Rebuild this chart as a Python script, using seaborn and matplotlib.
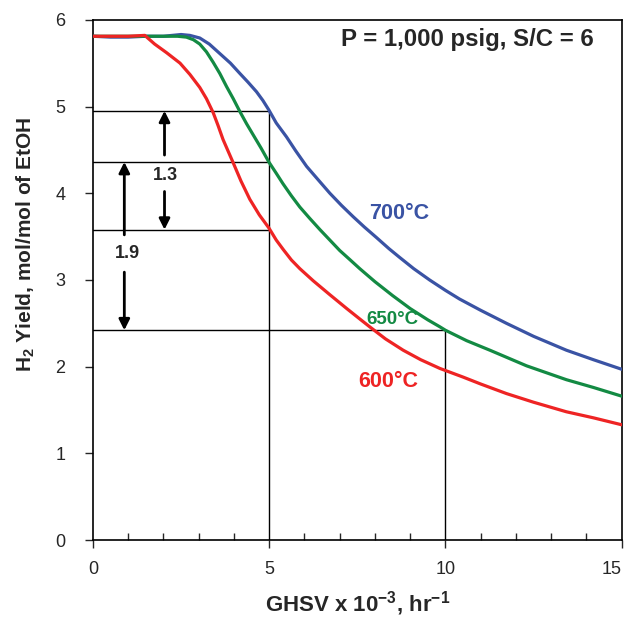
import numpy as np
import pandas as pd
import matplotlib
matplotlib.use('Agg')
import matplotlib.pyplot as plt
import seaborn as sns
from matplotlib.ticker import MultipleLocator

# GHSV (x 10^-3, hr^-1) vs H2 yield (mol/mol EtOH)
x_700 = [0, 0.5, 1, 1.5, 2, 2.5, 2.75, 3.03, 3.3, 3.6, 3.9, 4.17, 4.4, 4.64, 4.82, 4.99, 5.2,
         5.49, 5.75, 6.06, 6.4, 6.72, 7.05, 7.38, 7.7, 8.04, 8.4, 8.7, 9.1, 9.55, 10.0, 10.4,
         11.0, 11.73, 12.5, 13.43, 14.2, 15]
y_700 = [5.81, 5.80, 5.80, 5.81, 5.81, 5.83, 5.82, 5.79, 5.72, 5.61, 5.50, 5.38, 5.28, 5.17,
         5.07, 4.96, 4.81, 4.65, 4.49, 4.31, 4.15, 4.00, 3.86, 3.73, 3.61, 3.49, 3.36, 3.26,
         3.13, 3.00, 2.88, 2.78, 2.65, 2.50, 2.35, 2.19, 2.08, 1.97]

x_650 = [0, 0.5, 1, 1.5, 2, 2.4, 2.65, 2.85, 3.03, 3.22, 3.41, 3.6, 3.79, 3.98, 4.17, 4.36,
         4.55, 4.77, 4.99, 5.2, 5.39, 5.63, 5.87, 6.15, 6.44, 6.72, 7.0, 7.3, 7.57, 8.0, 8.5,
         9.0, 9.5, 9.84, 10.0, 10.6, 11.26, 12.3, 13.43, 14.2, 15]
y_650 = [5.81, 5.81, 5.81, 5.81, 5.81, 5.81, 5.80, 5.77, 5.72, 5.63, 5.51, 5.38, 5.23, 5.09,
         4.94, 4.80, 4.67, 4.52, 4.36, 4.23, 4.11, 3.97, 3.84, 3.71, 3.58, 3.46, 3.34, 3.23,
         3.13, 2.98, 2.82, 2.67, 2.54, 2.46, 2.42, 2.30, 2.19, 2.01, 1.85, 1.76, 1.66]

x_600 = [0, 0.5, 1, 1.47, 1.75, 2.09, 2.47, 2.75, 3.03, 3.22, 3.41, 3.55, 3.69, 3.84, 3.98,
         4.2, 4.45, 4.72, 4.99, 5.2, 5.4, 5.63, 5.87, 6.25, 6.72, 7.2, 7.57, 7.85, 8.3, 8.8,
         9.3, 9.84, 10.5, 11.0, 11.73, 12.5, 13.43, 14.2, 15]
y_600 = [5.81, 5.81, 5.81, 5.82, 5.72, 5.62, 5.50, 5.37, 5.22, 5.09, 4.93, 4.78, 4.62, 4.48,
         4.35, 4.14, 3.93, 3.75, 3.60, 3.46, 3.35, 3.23, 3.13, 2.99, 2.83, 2.67, 2.55, 2.46,
         2.32, 2.19, 2.08, 1.98, 1.88, 1.80, 1.69, 1.59, 1.48, 1.41, 1.33]

temps = ['700°C', '650°C', '600°C']
colors = ['#3A53A4', '#138A43', '#EE2424']

# reference levels: curves at GHSV = 5 and the 650°C curve at GHSV = 10
lvl_700_5 = 4.95
lvl_650_5 = 4.36
lvl_600_5 = 3.58
lvl_650_10 = 2.42

df = pd.concat([
    pd.DataFrame({'ghsv': x_700, 'yield': y_700, 'T': temps[0]}),
    pd.DataFrame({'ghsv': x_650, 'yield': y_650, 'T': temps[1]}),
    pd.DataFrame({'ghsv': x_600, 'yield': y_600, 'T': temps[2]}),
])

sns.set_style('ticks')
plt.rcParams['font.family'] = ['Liberation Sans', 'DejaVu Sans']
plt.rcParams['mathtext.default'] = 'regular'

fig = plt.figure(figsize=(6.28, 6.18), dpi=100)
ax = fig.add_axes([0.148, 0.126, 0.842, 0.842])

# thin black guide lines
lk = dict(color='black', lw=1.0, zorder=1)
for lv in [lvl_700_5, lvl_650_5, lvl_600_5]:
    ax.plot([0, 5], [lv, lv], **lk)
ax.plot([0, 10], [lvl_650_10, lvl_650_10], **lk)
ax.plot([5, 5], [0, lvl_700_5], **lk)
ax.plot([10, 10], [0, lvl_650_10], **lk)

sns.lineplot(data=df, x='ghsv', y='yield', hue='T', palette=colors, sort=False,
             estimator=None, lw=2.3, legend=False, ax=ax, zorder=3)

# double-headed arrows (split around the numbers)
ap = dict(arrowstyle='-|>', lw=2.0, color='black', mutation_scale=16, shrinkA=0, shrinkB=0)
ax.annotate('', xy=(2.03, lvl_700_5), xytext=(2.03, 4.44), arrowprops=ap)
ax.annotate('', xy=(2.03, lvl_600_5), xytext=(2.03, 4.02), arrowprops=ap)
ax.text(2.05, 4.20, '1.3', ha='center', va='center', fontsize=13, fontweight='bold')
ax.annotate('', xy=(0.89, lvl_650_5), xytext=(0.89, 3.52), arrowprops=ap)
ax.annotate('', xy=(0.89, lvl_650_10), xytext=(0.89, 3.09), arrowprops=ap)
ax.text(0.99, 3.31, '1.9', ha='center', va='center', fontsize=13, fontweight='bold')

# curve labels and conditions
ax.text(8.7, 3.77, temps[0], color=colors[0], fontsize=15.5, fontweight='bold', ha='center', va='center')
ax.text(8.49, 2.54, temps[1], color=colors[1], fontsize=13.5, fontweight='bold', ha='center', va='center')
ax.text(8.38, 1.83, temps[2], color=colors[2], fontsize=15.5, fontweight='bold', ha='center', va='center')
ax.text(10.63, 5.77, 'P = 1,000 psig, S/C = 6', fontsize=17.3, fontweight='bold', ha='center', va='center')

ax.set_xlim(0, 15)
ax.set_ylim(0, 6)
ax.xaxis.set_major_locator(MultipleLocator(5))
ax.xaxis.set_minor_locator(MultipleLocator(1))
ax.yaxis.set_major_locator(MultipleLocator(1))
ax.tick_params(axis='x', which='major', direction='out', length=6, width=1.0, labelsize=13, pad=9)
ax.tick_params(axis='x', which='minor', direction='in', length=5, width=1.0)
ax.tick_params(axis='y', which='major', direction='out', length=6, width=1.0, labelsize=13, pad=14)
for s in ax.spines.values():
    s.set_linewidth(1.2)
    s.set_color('black')

ax.set_xlabel('GHSV x 10$^{-3}$, hr$^{-1}$', fontsize=16, fontweight='bold', labelpad=8)
ax.set_ylabel('H$_2$ Yield, mol/mol of EtOH', fontsize=15, fontweight='bold')
ax.yaxis.set_label_coords(-0.105, 0.569)

# the "15" label sits at the figure edge; right-align it so it stays inside
fig.canvas.draw()
for t in ax.xaxis.get_major_ticks():
    if abs(t.get_loc() - 15) < 1e-6:
        t.label1.set_horizontalalignment('right')
        t.label1.set_x(15)

fig.savefig('out.png', dpi=100)
